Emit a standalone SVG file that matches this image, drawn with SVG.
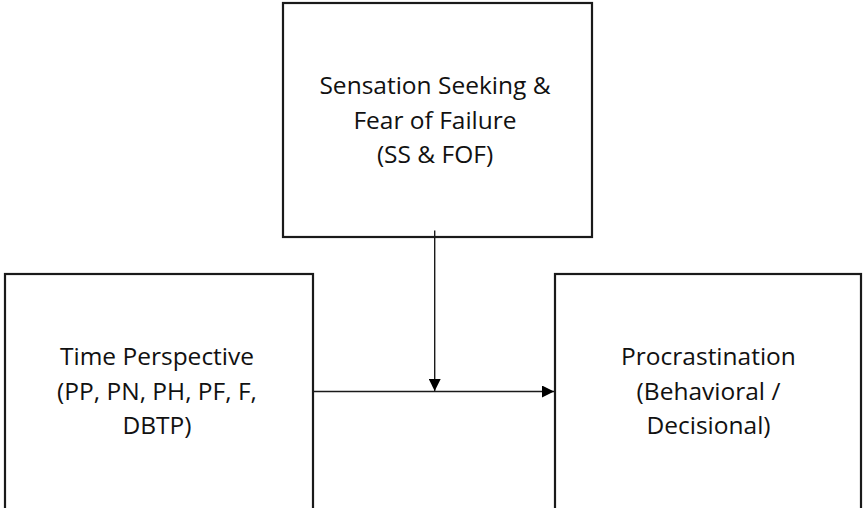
<svg xmlns="http://www.w3.org/2000/svg" width="864" height="508" viewBox="0 0 864 508">
<style>
.box{fill:#fff;stroke:#1a1a1a;stroke-width:2.2}
.t{font-family:"Open Sans","Liberation Sans",sans-serif;font-size:24.5px;fill:#111;text-anchor:middle}
.c{stroke:#1a1a1a;stroke-width:1.4;fill:none}
</style>
<defs>
<marker id="ah" markerWidth="12" markerHeight="12" viewBox="0 0 12 12" refX="12" refY="6" orient="auto" markerUnits="userSpaceOnUse">
<path d="M0,0 L12,6 L0,12 Z" fill="#000"/>
</marker>
</defs>
<g id="node-ss">
<rect class="box" x="283" y="3" width="309" height="234"/>
<text class="t" x="435" y="94">Sensation Seeking &amp;</text>
<text class="t" x="435" y="128.5">Fear of Failure</text>
<text class="t" x="435" y="163">(SS &amp; FOF)</text>
</g>
<g id="node-tp">
<rect class="box" x="5" y="274" width="308" height="240"/>
<text class="t" x="157" y="365">Time Perspective</text>
<text class="t" x="157" y="399.5">(PP, PN, PH, PF, F,</text>
<text class="t" x="157" y="434">DBTP)</text>
</g>
<g id="node-pr">
<rect class="box" x="555" y="274" width="306" height="240"/>
<text class="t" x="708.5" y="365">Procrastination</text>
<text class="t" x="708.5" y="399.5">(Behavioral /</text>
<text class="t" x="708.5" y="434">Decisional)</text>
</g>
<g id="connectors">
<line class="c" x1="313" y1="391.5" x2="554" y2="391.5" marker-end="url(#ah)"/>
<line class="c" x1="434.7" y1="230.5" x2="434.7" y2="391" marker-end="url(#ah)"/>
</g>
</svg>
